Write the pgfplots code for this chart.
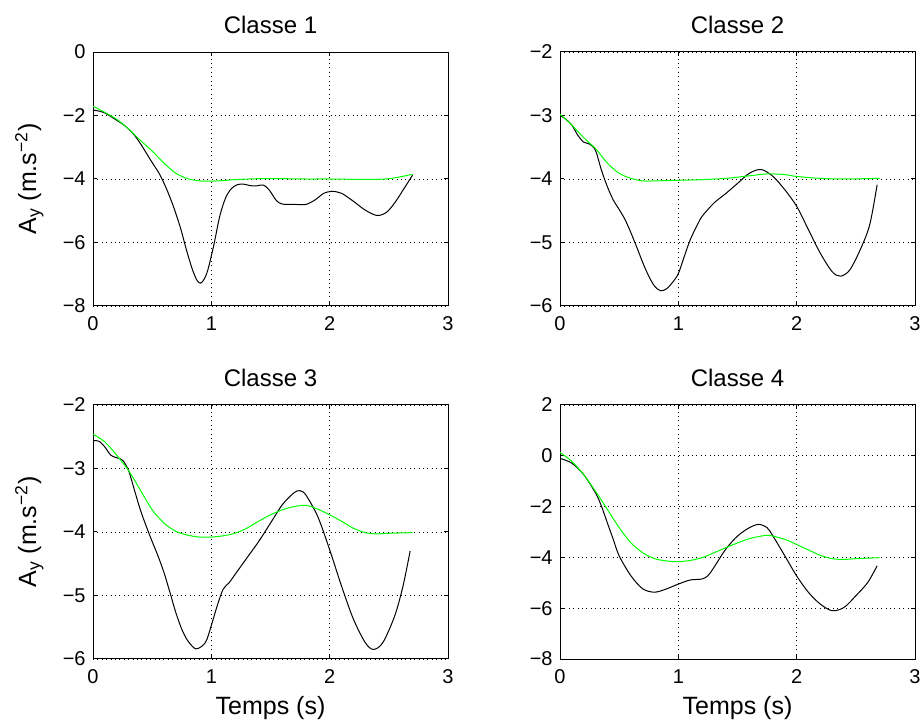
\documentclass[border=0pt]{standalone}
\usepackage{fontspec}
\setmainfont{Liberation Sans}
\usepackage{pgfplots}
\pgfplotsset{compat=1.18}
\usepgfplotslibrary{groupplots}

\definecolor{mgreen}{rgb}{0,1,0}

\pgfplotsset{
  matlab/.style={
    scale only axis, width=177.5pt, height=127pt,
    xmin=0, xmax=3, xtick={0,1,2,3},
    tick align=inside, major tick length=2pt,
    axis line style={line width=0.5pt},
    every tick/.style={black, line width=0.5pt},
    grid=major,
    grid style={black, line width=0.4pt, dash pattern=on 0.5pt off 1.7pt},
    /pgf/number format/assume math mode=true,
    tick label style={font=\fontsize{10}{11}\selectfont},
    xticklabel style={inner sep=0pt, anchor=north, yshift=-5pt},
    yticklabel style={inner sep=0pt, anchor=east, xshift=-3.5pt},
    title style={font=\fontsize{12}{14}\selectfont, at={(axis description cs:0.5,1)}, anchor=south, inner sep=0pt, yshift=3pt},
    label style={font=\fontsize{12.5}{14}\selectfont},
    xlabel style={at={(axis description cs:0.5,0)}, anchor=north, inner sep=0pt, yshift=-18.5pt},
    ylabel style={at={(axis description cs:-0.16,0.5)}, anchor=base, inner sep=0pt},
    every axis plot/.append style={line width=0.5pt, smooth, mark=none},
  }
}

\begin{document}
\begin{tikzpicture}
\begin{groupplot}[group style={group size=2 by 2, group name=G, horizontal sep=56pt, vertical sep=49.5pt}, matlab]

\nextgroupplot[title={Classe 1}, ymin=-8, ymax=0, ytick={-8,-6,-4,-2,0},
  yticklabels={−8,−6,−4,−2,0}, ylabel={A\textsubscript{y} (m.s\textsuperscript{−2})}]
\addplot[black] coordinates {
(0,-1.83) (0.05,-1.86) (0.1,-1.92) (0.15,-2.03) (0.2,-2.15) (0.25,-2.27) (0.3,-2.42) (0.35,-2.62) (0.4,-2.88) (0.45,-3.18) (0.5,-3.48) (0.56,-3.83) (0.62,-4.3) (0.68,-4.87) (0.74,-5.55) (0.79,-6.24) (0.84,-6.85) (0.88,-7.2) (0.91,-7.28) (0.94,-7.15) (0.97,-6.87) (1.02,-6.1) (1.07,-5.19) (1.12,-4.6) (1.17,-4.3) (1.22,-4.18) (1.27,-4.16) (1.33,-4.21) (1.38,-4.22) (1.44,-4.19) (1.49,-4.35) (1.55,-4.68) (1.6,-4.79) (1.7,-4.8) (1.8,-4.8) (1.88,-4.65) (1.95,-4.45) (2.02,-4.39) (2.1,-4.45) (2.2,-4.7) (2.3,-4.98) (2.4,-5.15) (2.48,-5.05) (2.55,-4.75) (2.62,-4.35) (2.7,-3.88)
};
\addplot[mgreen] coordinates {
(0,-1.71) (0.1,-1.9) (0.2,-2.12) (0.3,-2.42) (0.4,-2.78) (0.5,-3.12) (0.6,-3.5) (0.7,-3.82) (0.8,-3.99) (0.9,-4.06) (1.0,-4.07) (1.1,-4.05) (1.2,-4.02) (1.4,-3.99) (1.6,-3.99) (1.8,-4.0) (2.0,-4.0) (2.2,-4.01) (2.4,-4.01) (2.5,-3.99) (2.6,-3.93) (2.7,-3.85)
};

\nextgroupplot[title={Classe 2}, ymin=-6, ymax=-2, ytick={-6,-5,-4,-3,-2},
  yticklabels={−6,−5,−4,−3,−2}]
\addplot[black] coordinates {
(0,-3.0) (0.05,-3.06) (0.1,-3.15) (0.15,-3.31) (0.2,-3.42) (0.25,-3.45) (0.3,-3.55) (0.35,-3.86) (0.4,-4.12) (0.45,-4.33) (0.5,-4.48) (0.55,-4.64) (0.6,-4.85) (0.65,-5.08) (0.7,-5.32) (0.75,-5.53) (0.8,-5.69) (0.85,-5.76) (0.9,-5.73) (0.95,-5.63) (1.0,-5.49) (1.05,-5.22) (1.1,-4.96) (1.15,-4.76) (1.2,-4.59) (1.3,-4.38) (1.4,-4.23) (1.5,-4.07) (1.6,-3.91) (1.7,-3.85) (1.8,-3.96) (1.9,-4.17) (2.0,-4.43) (2.1,-4.8) (2.2,-5.17) (2.3,-5.46) (2.37,-5.53) (2.45,-5.43) (2.55,-5.06) (2.62,-4.7) (2.68,-4.09)
};
\addplot[mgreen] coordinates {
(0,-2.98) (0.1,-3.15) (0.2,-3.35) (0.3,-3.52) (0.4,-3.75) (0.5,-3.91) (0.6,-3.99) (0.7,-4.03) (0.8,-4.03) (1.0,-4.02) (1.2,-4.01) (1.4,-3.99) (1.6,-3.95) (1.75,-3.92) (1.9,-3.93) (2.0,-3.96) (2.2,-3.99) (2.4,-4.0) (2.7,-3.99)
};

\nextgroupplot[title={Classe 3}, ymin=-6, ymax=-2, ytick={-6,-5,-4,-3,-2},
  yticklabels={−6,−5,−4,−3,−2}, ylabel={A\textsubscript{y} (m.s\textsuperscript{−2})}, xlabel={Temps (s)}]
\addplot[black] coordinates {
(0,-2.56) (0.05,-2.57) (0.1,-2.66) (0.15,-2.79) (0.2,-2.83) (0.25,-2.87) (0.3,-3.03) (0.35,-3.34) (0.4,-3.65) (0.45,-3.91) (0.5,-4.15) (0.55,-4.38) (0.6,-4.64) (0.65,-4.95) (0.7,-5.27) (0.75,-5.53) (0.8,-5.71) (0.87,-5.84) (0.95,-5.74) (1.0,-5.47) (1.05,-5.16) (1.1,-4.9) (1.15,-4.8) (1.2,-4.67) (1.3,-4.41) (1.4,-4.15) (1.5,-3.86) (1.6,-3.57) (1.7,-3.38) (1.75,-3.35) (1.8,-3.42) (1.9,-3.76) (2.0,-4.28) (2.1,-4.85) (2.2,-5.37) (2.3,-5.74) (2.37,-5.85) (2.45,-5.74) (2.55,-5.32) (2.62,-4.85) (2.68,-4.3)
};
\addplot[mgreen] coordinates {
(0,-2.46) (0.1,-2.58) (0.2,-2.79) (0.3,-3.03) (0.4,-3.34) (0.5,-3.65) (0.6,-3.86) (0.7,-3.99) (0.8,-4.05) (0.9,-4.08) (1.0,-4.08) (1.1,-4.06) (1.2,-4.02) (1.3,-3.94) (1.4,-3.83) (1.5,-3.73) (1.6,-3.65) (1.7,-3.6) (1.8,-3.58) (1.9,-3.64) (2.0,-3.73) (2.1,-3.83) (2.2,-3.94) (2.3,-4.01) (2.4,-4.03) (2.5,-4.02) (2.7,-4.01)
};

\nextgroupplot[title={Classe 4}, ymin=-8, ymax=2, ytick={-8,-6,-4,-2,0,2},
  yticklabels={−8,−6,−4,−2,0,2}, xlabel={Temps (s)}]
\addplot[black] coordinates {
(0,-0.1) (0.1,-0.29) (0.2,-0.74) (0.3,-1.46) (0.35,-1.98) (0.4,-2.64) (0.45,-3.29) (0.5,-3.94) (0.6,-4.73) (0.7,-5.24) (0.8,-5.37) (0.9,-5.24) (1.0,-5.05) (1.1,-4.89) (1.2,-4.85) (1.25,-4.72) (1.3,-4.4) (1.4,-3.68) (1.5,-3.16) (1.6,-2.83) (1.68,-2.7) (1.75,-2.83) (1.8,-3.16) (1.9,-3.94) (2.0,-4.73) (2.1,-5.38) (2.2,-5.84) (2.3,-6.1) (2.4,-5.97) (2.5,-5.51) (2.6,-4.99) (2.68,-4.33)
};
\addplot[mgreen] coordinates {
(0,0.13) (0.1,-0.22) (0.2,-0.74) (0.3,-1.4) (0.4,-2.11) (0.5,-2.83) (0.6,-3.43) (0.7,-3.82) (0.8,-4.05) (0.9,-4.14) (1.0,-4.17) (1.1,-4.12) (1.2,-4.01) (1.3,-3.82) (1.4,-3.62) (1.5,-3.43) (1.6,-3.26) (1.7,-3.16) (1.75,-3.13) (1.8,-3.16) (1.9,-3.29) (2.0,-3.49) (2.1,-3.71) (2.2,-3.92) (2.3,-4.05) (2.4,-4.08) (2.5,-4.05) (2.7,-4.01)
};
\end{groupplot}
\path ([shift={(-46.5pt,26pt)}]G c1r1.north west) rectangle ([shift={(3.5pt,-30.5pt)}]G c2r2.south east);
\end{tikzpicture}
\end{document}
